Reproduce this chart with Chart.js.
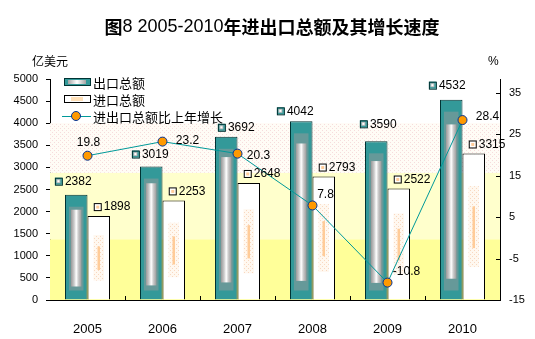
<!DOCTYPE html>
<html>
<head>
<meta charset="utf-8">
<script src="https://cdn.jsdelivr.net/npm/chart.js@4.4.0/dist/chart.umd.min.js"></script>
<style>
  html, body { margin: 0; padding: 0; background: #ffffff; }
  #wrap { width: 535px; height: 339px; }
</style>
</head>
<body>
<div id="wrap"><canvas id="c" width="535" height="339"></canvas></div>
<script>
// Years on the category axis
const years = ['2005', '2006', '2007', '2008', '2009', '2010'];
// Exports and imports, 100 million USD
const exportsTotal = [2382, 3019, 3692, 4042, 3590, 4532];
const importsTotal = [1898, 2253, 2648, 2793, 2522, 3315];
// Growth of total trade over the previous year, %
const tradeGrowth = [19.8, 23.2, 20.3, 7.8, -10.8, 28.4];
// Axis tick labels
const leftTicks = [0, 500, 1000, 1500, 2000, 2500, 3000, 3500, 4000, 4500, 5000];
const rightTicks = [-15, -5, 5, 15, 25, 35];

const seriesNames = ['出口总额', '进口总额', '进出口总额比上年增长'];

// Label placement tweaks, [dx, lift] in pixels (style only)
const growthLabelShift = [[1, -13], [25, -1], [21, 2], [13, -11], [19, -11], [25, -3]];
const exportLabelShift = [[-3, 13], [-1, 12], [10, 9], [-6, 10], [2, 17], [-4, 14]];

const LATIN = '"Liberation Sans", Arial, sans-serif';
const CJK = '"Noto Sans CJK SC", sans-serif';

function dotPattern(bg, dot) {
  const p = document.createElement('canvas');
  p.width = 4; p.height = 4;
  const g = p.getContext('2d');
  g.fillStyle = bg; g.fillRect(0, 0, 4, 4);
  g.fillStyle = dot;
  g.fillRect(0, 0, 1, 1);
  g.fillRect(2, 2, 1, 1);
  return g.createPattern(p, 'repeat');
}

function drawExportFill(ctx, l, r, t, b) {
  const h = b - t;
  ctx.fillStyle = '#669999';
  ctx.fillRect(l + 3, t + 11, (r - l) - 6, h - 19);
  const gl = l + 5, gr = r - 5;
  const gt = t + Math.max(14, h * 0.12), gb = b - Math.max(12, h * 0.1);
  if (gb > gt) {
    const g = ctx.createLinearGradient(gl, 0, gr, 0);
    g.addColorStop(0, '#999999');
    g.addColorStop(0.3, '#cccccc');
    g.addColorStop(0.5, '#ffffff');
    g.addColorStop(0.7, '#cccccc');
    g.addColorStop(1, '#999999');
    ctx.fillStyle = g;
    ctx.fillRect(gl, gt, gr - gl, gb - gt);
  }
}

function drawImportFill(ctx, l, r, t, b) {
  const h = b - t;
  ctx.fillStyle = dotPattern('#fff8f0', '#f8d8c0');
  ctx.fillRect(l + 5, t + h * 0.22, (r - l) - 10, h * 0.56);
  ctx.fillStyle = '#ffcc99';
  ctx.fillRect(l + 9, t + h * 0.36, (r - l) - 18, h * 0.29);
}

function exportIcon(ctx, x, y) {
  ctx.fillStyle = '#339999';
  ctx.fillRect(x, y, 7, 7);
  ctx.fillStyle = '#bbbbbb';
  ctx.fillRect(x + 1.5, y + 1.5, 4, 4);
  ctx.fillStyle = '#ffffff';
  ctx.fillRect(x + 2.5, y + 2.5, 2, 2);
  ctx.strokeStyle = '#003333';
  ctx.lineWidth = 1;
  ctx.strokeRect(x + 0.5, y + 0.5, 7, 7);
}

function importIcon(ctx, x, y) {
  ctx.fillStyle = '#ffffff';
  ctx.fillRect(x, y, 7, 7);
  ctx.fillStyle = '#ffcc99';
  ctx.fillRect(x + 2.5, y + 2.5, 3, 3);
  ctx.strokeStyle = '#000000';
  ctx.lineWidth = 1;
  ctx.strokeRect(x + 0.5, y + 0.5, 7, 7);
}

const decor = {
  id: 'decor',
  beforeDatasetsDraw(chart) {
    const ctx = chart.ctx, a = chart.chartArea, y = chart.scales.y;
    const y0 = y.getPixelForValue(0), y1 = y.getPixelForValue(1375);
    const y2 = y.getPixelForValue(2880), y3 = y.getPixelForValue(4000);
    ctx.save();
    ctx.fillStyle = '#ffff99';
    ctx.fillRect(a.left, y1, a.right - a.left, y0 - y1);
    ctx.fillStyle = '#ffffcc';
    ctx.fillRect(a.left, y2, a.right - a.left, y1 - y2);
    ctx.fillStyle = dotPattern('#fffcf6', '#f6dcdc');
    ctx.fillRect(a.left, y3, a.right - a.left, y2 - y3);
    ctx.restore();
  },
  afterDatasetDraw(chart, args) {
    if (args.index > 1) return;
    const ctx = chart.ctx;
    ctx.save();
    args.meta.data.forEach(el => {
      const l = el.x - el.width / 2 + 1, r = el.x + el.width / 2 - 1;
      const t = el.y + 1, b = el.base - 1;
      if (args.index === 0) drawExportFill(ctx, l, r, t, b);
      else drawImportFill(ctx, l, r, t, b);
    });
    ctx.restore();
  },
  afterDraw(chart) {
    const ctx = chart.ctx, a = chart.chartArea;
    ctx.save();

    // title
    const parts = [
      ['图', 'bold 18px ' + CJK],
      ['8 2005-2010', '18px ' + LATIN],
      ['年进出口总额及其增长速度', 'bold 18px ' + CJK]
    ];
    let total = 0;
    parts.forEach(p => { ctx.font = p[1]; total += ctx.measureText(p[0]).width; });
    let tx = 272 - total / 2;
    ctx.fillStyle = '#000';
    ctx.textBaseline = 'middle';
    ctx.textAlign = 'left';
    parts.forEach(p => { ctx.font = p[1]; ctx.fillText(p[0], tx, 27); tx += ctx.measureText(p[0]).width; });

    // unit captions
    ctx.font = '12px ' + CJK;
    ctx.fillText('亿美元', 32, 61);
    ctx.font = '12px ' + LATIN;
    ctx.fillText('%', 488, 62);

    // inward ticks on the x axis and right axis
    ctx.strokeStyle = '#000';
    ctx.lineWidth = 1;
    const n = years.length, step = (a.right - a.left) / n;
    ctx.beginPath();
    for (let i = 1; i < n; i++) {
      const x = Math.round(a.left + i * step) + 0.5;
      ctx.moveTo(x, a.bottom); ctx.lineTo(x, a.bottom - 4);
    }
    const yr = chart.scales.y1;
    rightTicks.forEach(v => {
      const yy = Math.round(yr.getPixelForValue(v)) + 0.5;
      ctx.moveTo(a.right, yy); ctx.lineTo(a.right - 4, yy);
    });
    ctx.stroke();

    // value labels on bars
    ctx.font = '12px ' + LATIN;
    ctx.textBaseline = 'middle';
    const m0 = chart.getDatasetMeta(0), m1 = chart.getDatasetMeta(1);
    m0.data.forEach((el, i) => {
      const txt = String(exportsTotal[i]);
      const w = 10 + ctx.measureText(txt).width;
      const s = exportLabelShift[i];
      const left = el.x + s[0] - w / 2, cy = el.y - s[1];
      exportIcon(ctx, left, cy - 4);
      ctx.fillStyle = '#000';
      ctx.fillText(txt, left + 10, cy);
    });
    m1.data.forEach((el, i) => {
      const txt = String(importsTotal[i]);
      const left = el.x - 5, cy = el.y - 9;
      importIcon(ctx, left, cy - 4);
      ctx.fillStyle = '#000';
      ctx.fillText(txt, left + 10, cy);
    });

    // growth labels
    const m2 = chart.getDatasetMeta(2);
    ctx.textAlign = 'center';
    m2.data.forEach((pt, i) => {
      const s = growthLabelShift[i];
      ctx.fillStyle = '#000';
      ctx.fillText(tradeGrowth[i].toFixed(1), pt.x + s[0], pt.y + s[1]);
    });

    // legend inside the plot
    ctx.textAlign = 'left';
    const lx = 64, ly = [82, 99, 116];
    ctx.fillStyle = '#339999';
    ctx.fillRect(lx, ly[0] - 4, 26, 8);
    const g = ctx.createLinearGradient(lx + 3, 0, lx + 23, 0);
    g.addColorStop(0, '#999999'); g.addColorStop(0.5, '#ffffff'); g.addColorStop(1, '#999999');
    ctx.fillStyle = g;
    ctx.fillRect(lx + 4, ly[0] - 2, 18, 4);
    ctx.strokeStyle = '#003333';
    ctx.strokeRect(lx + 0.5, ly[0] - 3.5, 26, 7);
    ctx.fillStyle = '#ffffff';
    ctx.fillRect(lx, ly[1] - 4, 26, 8);
    ctx.fillStyle = '#ffe0b8';
    ctx.fillRect(lx + 7, ly[1] - 2, 12, 4);
    ctx.strokeStyle = '#000';
    ctx.strokeRect(lx + 0.5, ly[1] - 3.5, 26, 7);
    ctx.strokeStyle = '#009999';
    ctx.beginPath();
    ctx.moveTo(lx - 2, ly[2] + 0.5); ctx.lineTo(lx + 27, ly[2] + 0.5);
    ctx.stroke();
    ctx.beginPath();
    ctx.arc(lx + 12, ly[2], 4.5, 0, Math.PI * 2);
    ctx.fillStyle = '#ff9900';
    ctx.fill();
    ctx.strokeStyle = '#003399';
    ctx.stroke();
    ctx.font = '13px ' + CJK;
    ctx.fillStyle = '#000';
    seriesNames.forEach((s, i) => ctx.fillText(s, 93, ly[i] + 1));

    ctx.restore();
  }
};

new Chart(document.getElementById('c'), {
  data: {
    labels: years,
    datasets: [
      {
        type: 'bar', label: seriesNames[0], data: exportsTotal, yAxisID: 'y', order: 1,
        backgroundColor: '#339999', borderColor: '#003333', borderWidth: 1,
        categoryPercentage: 0.6, barPercentage: 1.0
      },
      {
        type: 'bar', label: seriesNames[1], data: importsTotal, yAxisID: 'y', order: 2,
        backgroundColor: '#ffffff', borderColor: '#000000', borderWidth: 1,
        categoryPercentage: 0.6, barPercentage: 1.0
      },
      {
        type: 'line', label: seriesNames[2], data: tradeGrowth, yAxisID: 'y1', order: 0,
        borderColor: '#009999', borderWidth: 1, tension: 0,
        pointRadius: 4.5, pointBackgroundColor: '#ff9900', pointBorderColor: '#003399',
        pointBorderWidth: 1
      }
    ]
  },
  options: {
    responsive: false,
    animation: false,
    devicePixelRatio: 1,
    layout: { padding: { top: 79, left: 0, right: 0, bottom: 0 } },
    plugins: { legend: { display: false }, title: { display: false }, tooltip: { enabled: false } },
    scales: {
      x: {
        grid: { display: false },
        border: { color: '#000', width: 1 },
        ticks: { color: '#000', font: { family: LATIN, size: 13 }, padding: 14 },
        afterFit(s) { s.height = 39; }
      },
      y: {
        position: 'left', min: 0, max: 5000,
        afterBuildTicks(s) { s.ticks = leftTicks.map(v => ({ value: v })); },
        grid: { drawOnChartArea: false, tickLength: 4, color: '#000' },
        border: { color: '#000', width: 1 },
        ticks: { color: '#000', font: { family: LATIN, size: 11 }, padding: 8, callback: v => String(v) },
        afterFit(s) { s.width = 50; }
      },
      y1: {
        position: 'right', min: -15, max: 38.3,
        afterBuildTicks(s) { s.ticks = rightTicks.map(v => ({ value: v })); },
        grid: { drawOnChartArea: false, drawTicks: false },
        border: { color: '#000', width: 1 },
        ticks: { color: '#000', font: { family: LATIN, size: 11 }, padding: 9, callback: v => String(v) },
        afterFit(s) { s.width = 35; }
      }
    }
  },
  plugins: [decor]
});
</script>
</body>
</html>
